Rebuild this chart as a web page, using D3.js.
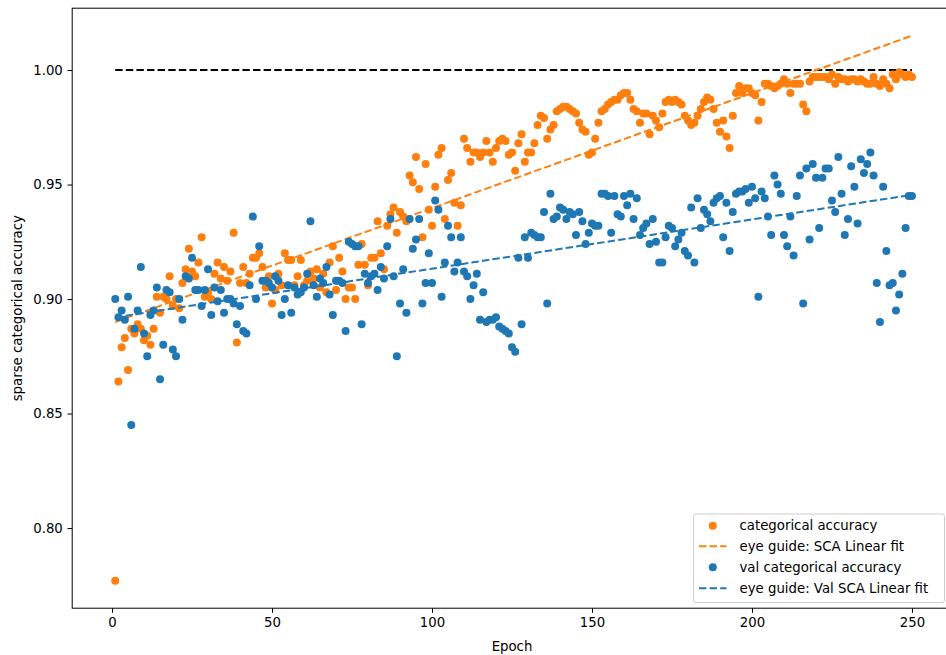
<!DOCTYPE html>
<html>
<head>
<meta charset="utf-8">
<script src="https://cdn.jsdelivr.net/npm/d3@7/dist/d3.min.js"></script>
<style>
  body { margin: 0; background: #fff; }
  svg { display: block; font-family: "DejaVu Sans", sans-serif; }
</style>
</head>
<body>
<svg id="chart" width="946" height="655"></svg>
<script>
// Training history: one value per epoch, starting at epoch 1
const firstEpoch = 1;

const trainAcc = [
  0.777,0.864,0.879,0.883,0.869,0.887,0.885,0.889,0.887,0.882,
  0.884,0.880,0.887,0.901,0.894,0.901,0.900,0.910,0.897,0.900,
  0.896,0.907,0.913,0.922,0.912,0.910,0.916,0.927,0.901,0.903,
  0.900,0.911,0.916,0.909,0.914,0.908,0.912,0.929,0.881,0.907,
  0.914,0.907,0.911,0.918,0.918,0.920,0.914,0.905,0.910,0.898,
  0.904,0.911,0.906,0.920,0.917,0.917,0.906,0.910,0.917,0.906,
  0.908,0.912,0.909,0.913,0.905,0.911,0.903,0.916,0.923,0.904,
  0.918,0.912,0.900,0.905,0.905,0.900,0.915,0.924,0.915,0.906,
  0.918,0.918,0.934,0.920,0.913,0.932,0.937,0.940,0.929,0.938,
  0.936,0.934,0.954,0.951,0.962,0.948,0.927,0.959,0.939,0.932,
  0.949,0.963,0.966,0.935,0.952,0.955,0.942,0.932,0.941,0.970,
  0.966,0.960,0.964,0.964,0.962,0.964,0.969,0.964,0.960,0.966,
  0.969,0.970,0.969,0.963,0.964,0.956,0.968,0.972,0.960,0.964,
  0.964,0.968,0.976,0.980,0.979,0.970,0.974,0.976,0.982,0.983,
  0.984,0.984,0.983,0.982,0.981,0.977,0.974,0.973,0.963,0.964,
  0.970,0.977,0.982,0.983,0.985,0.986,0.987,0.987,0.989,0.990,
  0.990,0.987,0.983,0.982,0.977,0.981,0.981,0.972,0.980,0.978,
  0.975,0.981,0.986,0.987,0.986,0.987,0.986,0.985,0.980,0.978,
  0.976,0.977,0.980,0.983,0.986,0.988,0.987,0.983,0.977,0.973,
  0.978,0.971,0.966,0.980,0.990,0.993,0.990,0.992,0.992,0.990,
  0.989,0.978,0.986,0.994,0.994,0.993,0.992,0.993,0.994,0.996,
  0.994,0.990,0.994,0.994,0.994,0.985,0.982,0.995,0.997,0.997,
  0.997,0.997,0.997,0.996,0.998,0.994,0.997,0.996,0.996,0.995,
  0.996,0.996,0.995,0.996,0.995,0.994,0.994,0.997,0.994,0.993,
  0.996,0.994,0.992,0.998,0.996,0.999,0.998,0.997,0.998,0.997
];

const valAcc = [
  0.900,0.892,0.895,0.891,0.901,0.845,0.887,0.895,0.914,0.885,
  0.875,0.893,0.895,0.905,0.865,0.880,0.904,0.903,0.878,0.875,
  0.900,0.891,0.910,0.909,0.918,0.904,0.904,0.897,0.904,0.913,
  0.893,0.905,0.899,0.904,0.894,0.900,0.900,0.898,0.889,0.897,
  0.886,0.885,0.906,0.936,0.900,0.923,0.908,0.908,0.907,0.905,
  0.910,0.908,0.893,0.900,0.906,0.894,0.905,0.902,0.903,0.905,
  0.911,0.934,0.906,0.901,0.909,0.907,0.914,0.902,0.893,0.908,
  0.908,0.907,0.886,0.925,0.924,0.923,0.923,0.889,0.911,0.907,
  0.910,0.911,0.904,0.914,0.909,0.923,0.935,0.910,0.875,0.898,
  0.913,0.894,0.935,0.922,0.926,0.935,0.898,0.907,0.920,0.907,
  0.943,0.939,0.901,0.916,0.932,0.927,0.912,0.916,0.927,0.912,
  0.910,0.900,0.906,0.911,0.891,0.903,0.890,0.891,0.891,0.892,
  0.888,0.887,0.886,0.885,0.879,0.877,0.918,0.889,0.927,0.918,
  0.929,0.928,0.927,0.927,0.938,0.898,0.946,0.935,0.936,0.940,
  0.939,0.935,0.938,0.937,0.928,0.938,0.934,0.924,0.929,0.933,
  0.932,0.932,0.946,0.946,0.945,0.929,0.945,0.937,0.936,0.945,
  0.941,0.946,0.935,0.944,0.928,0.931,0.933,0.924,0.935,0.925,
  0.916,0.916,0.927,0.932,0.931,0.923,0.926,0.929,0.921,0.919,
  0.940,0.916,0.944,0.931,0.939,0.937,0.934,0.942,0.944,0.945,
  0.927,0.942,0.921,0.938,0.946,0.947,0.947,0.948,0.942,0.949,
  0.944,0.901,0.947,0.944,0.936,0.928,0.954,0.950,0.946,0.928,
  0.923,0.936,0.919,0.945,0.954,0.898,0.957,0.926,0.959,0.953,
  0.931,0.953,0.957,0.957,0.943,0.938,0.962,0.946,0.928,0.935,
  0.958,0.949,0.933,0.961,0.955,0.959,0.964,0.954,0.907,0.890,
  0.949,0.921,0.906,0.907,0.895,0.902,0.911,0.931,0.945,0.945
];

// Eye-guide lines (end points of the linear fits) and the perfect-accuracy reference
const fitEpochs = [1, 250];
const trainFit = [0.890, 1.015];
const valFit = [0.892, 0.9455];
const referenceLevel = [1.0, 1.0];

const xTicks = [0, 50, 100, 150, 200, 250];
const yTicks = [0.80, 0.85, 0.90, 0.95, 1.00];

const legendLabels = [
  "categorical accuracy",
  "eye guide: SCA Linear fit",
  "val categorical accuracy",
  "eye guide: Val SCA Linear fit"
];

const ORANGE = "#ff7f0e", BLUE = "#1f77b4";

const svg = d3.select("#chart");
const box = { left: 72.2, right: 948.6, top: 8.2, bottom: 608.2 };

const x = d3.scaleLinear().domain([-12.45, 261.45]).range([box.left, box.right]);
const y = d3.scaleLinear().domain([0.765, 1.027]).range([box.bottom, box.top]);

svg.append("defs").append("clipPath").attr("id", "plotclip")
  .append("rect").attr("x", box.left).attr("y", box.top)
  .attr("width", box.right - box.left).attr("height", box.bottom - box.top);

const plot = svg.append("g").attr("clip-path", "url(#plotclip)");

const epochOf = i => firstEpoch + i;
const dash = "7.4,3.2";

const lineGen = d3.line().x(d => x(d[0])).y(d => y(d[1]));

// reference line at 1.0
plot.append("path")
  .datum(fitEpochs.map((e, i) => [e, referenceLevel[i]]))
  .attr("d", lineGen).attr("fill", "none")
  .attr("stroke", "#000").attr("stroke-width", 2).attr("stroke-dasharray", dash);

// training accuracy points
plot.append("g").selectAll("circle").data(trainAcc).join("circle")
  .attr("cx", (d, i) => x(epochOf(i))).attr("cy", d => y(d))
  .attr("r", 4).attr("fill", ORANGE);

plot.append("path")
  .datum(fitEpochs.map((e, i) => [e, trainFit[i]]))
  .attr("d", lineGen).attr("fill", "none")
  .attr("stroke", ORANGE).attr("stroke-width", 2).attr("stroke-dasharray", dash);

// validation accuracy points
plot.append("g").selectAll("circle").data(valAcc).join("circle")
  .attr("cx", (d, i) => x(epochOf(i))).attr("cy", d => y(d))
  .attr("r", 4).attr("fill", BLUE);

plot.append("path")
  .datum(fitEpochs.map((e, i) => [e, valFit[i]]))
  .attr("d", lineGen).attr("fill", "none")
  .attr("stroke", BLUE).attr("stroke-width", 2).attr("stroke-dasharray", dash);

// axes
const xAxis = svg.append("g").attr("transform", `translate(0,${box.bottom})`)
  .call(d3.axisBottom(x).tickValues(xTicks).tickFormat(d3.format("d"))
    .tickSizeInner(4.7).tickSizeOuter(0).tickPadding(4.7));
const yAxis = svg.append("g").attr("transform", `translate(${box.left},0)`)
  .call(d3.axisLeft(y).tickValues(yTicks).tickFormat(d3.format(".2f"))
    .tickSizeInner(4.7).tickSizeOuter(0).tickPadding(4.7));

[xAxis, yAxis].forEach(a => {
  a.select(".domain").remove();
  a.selectAll(".tick line").attr("stroke", "#000").attr("stroke-width", 1);
  a.selectAll(".tick text").attr("fill", "#000").style("font-size", "13.3px")
    .style("font-family", '"DejaVu Sans", sans-serif');
});

// spines
svg.append("rect").attr("x", box.left).attr("y", box.top)
  .attr("width", box.right - box.left).attr("height", box.bottom - box.top)
  .attr("fill", "none").attr("stroke", "#000").attr("stroke-width", 1);

// axis labels
svg.append("text").attr("x", 512).attr("y", 651)
  .attr("text-anchor", "middle").style("font-size", "13.3px").text("Epoch");
svg.append("text")
  .attr("transform", `translate(22,${(box.top + box.bottom) / 2}) rotate(-90)`)
  .attr("text-anchor", "middle").style("font-size", "13.3px")
  .text("sparse categorical accuracy");

// legend
const lg = svg.append("g");
lg.append("rect").attr("x", 693.5).attr("y", 514).attr("width", 251).attr("height", 88.5)
  .attr("rx", 2.5).attr("fill", "#fff").attr("fill-opacity", 0.8)
  .attr("stroke", "#ccc").attr("stroke-width", 1);

const legendKinds = [
  { kind: "dot", color: ORANGE },
  { kind: "line", color: ORANGE },
  { kind: "dot", color: BLUE },
  { kind: "line", color: BLUE }
];
const rowY = [525.8, 546.2, 567.2, 588.2];
legendKinds.forEach((k, i) => {
  if (k.kind === "dot") {
    lg.append("circle").attr("cx", 712.8).attr("cy", rowY[i]).attr("r", 4).attr("fill", k.color);
  } else {
    lg.append("line").attr("x1", 699).attr("x2", 726.5).attr("y1", rowY[i]).attr("y2", rowY[i])
      .attr("stroke", k.color).attr("stroke-width", 2).attr("stroke-dasharray", dash);
  }
  lg.append("text").attr("x", 739.5).attr("y", rowY[i]).attr("dy", "0.35em")
    .style("font-size", "13.3px").text(legendLabels[i]);
});
</script>
</body>
</html>
